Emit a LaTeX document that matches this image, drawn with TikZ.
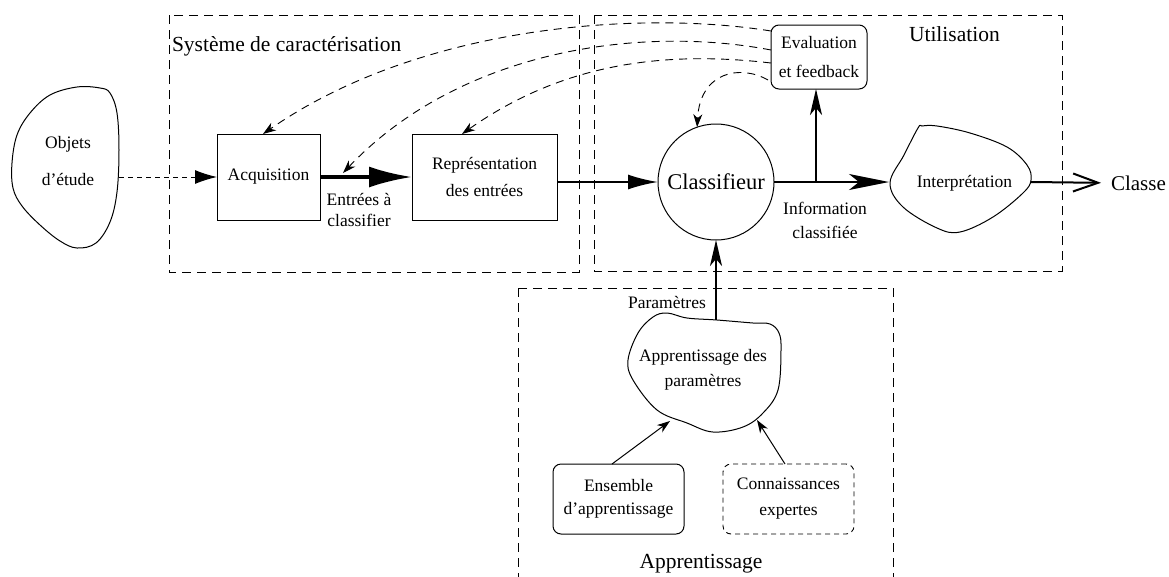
\documentclass[tikz,border=0pt]{standalone}
\usepackage{fontspec}
\setmainfont{Liberation Serif}
\usetikzlibrary{arrows.meta,calc}
\begin{document}
\begin{tikzpicture}[x=1pt,y=-1pt,
  every node/.style={inner sep=0pt, outer sep=0pt},
  txt/.style={font=\fontsize{17.5}{#1}\selectfont, align=center},
  txt/.default=21,
  big/.style={font=\fontsize{21.5}{26}\selectfont},
  box/.style={draw, line width=1pt},
  region/.style={draw, line width=0.9pt, dash pattern=on 9pt off 6pt},
  blob/.style={draw, line width=1pt},
  feed/.style={line width=0.9pt, dash pattern=on 8pt off 6pt, -{Stealth[length=13pt,width=9pt,inset=4pt]}},
  thin arrow/.style={line width=1pt, -{Stealth[length=13pt,width=9pt,inset=4pt]}},
  main/.style={line width=2pt},
]
\useasboundingbox (0,0) rectangle (1169,576);

% regions
\draw[region] (169,15) rectangle (579,272);
\draw[region] (594,15) rectangle (1062,271);
\draw[region] (518,288) rectangle (893,600);

% titles
\node[big, anchor=base west] (t1) at (172,51) {Système de caractérisation};
\node[big, anchor=base west] (t2) at (909,41) {Utilisation};
\node[big, anchor=base] (t3) at (701,568) {Apprentissage};

% blobs
\draw[blob] plot[smooth cycle, tension=0.6] coordinates {(100,88) (77,87) (50,95) (30,113) (17,135) (12,163) (13,188) (22,206) (40,225) (60,241) (77,248) (96,243) (110,222) (117,192) (119,150) (117,113) (110,93)};
\node[txt=37] (obj) at (68,161.5) {Objets\\d’étude};

\draw[blob] plot[smooth cycle, tension=0.6] coordinates {(918,128) (904,155) (890,183) (903,207) (937,228) (960,232) (993,217) (1023,193) (1031,180) (1027,165) (1007,147) (970,133) (937,126) (922,126)};
\node[txt] (interp) at (964.5,183) {Interprétation};

\draw[blob] plot[smooth cycle, tension=0.6] coordinates {(667,313) (687,318) (717,320) (753,323) (770,324) (779,333) (781,350) (778,390) (763,413) (743,427) (713,432) (687,423) (657,410) (633,380) (628,360) (638,333) (653,317)};
\node[txt=25] (aptxt) at (703,370) {Apprentissage des\\paramètres};

% boxes
\node[box, txt, minimum width=103pt, minimum height=86pt] (acq) at (268.5,177) {Acquisition};
\node[box, txt=27, minimum width=145pt, minimum height=86pt] (rep) at (484.5,177) {Représentation\\des entrées};
\node[box, txt=29, rounded corners=8pt, minimum width=96pt, minimum height=64pt] (eval) at (819,57) {Evaluation\\et feedback};
\node[draw, circle, line width=1pt, minimum size=116pt, font=\fontsize{22.5}{27}\selectfont] (cls) at (716,182) {Classifieur};
\node[box, txt=23, rounded corners=8pt, minimum width=131pt, minimum height=70pt] (ens) at (618.5,499) {Ensemble\\d’apprentissage};
\node[draw, line width=0.9pt, dash pattern=on 5pt off 4pt, txt=26, rounded corners=8pt, minimum width=131pt, minimum height=70pt] (con) at (788.5,499) {Connaissances\\expertes};

% labels
\node[txt=21] (entrees) at (359,209.5) {Entrées à\\classifier};
\node[txt=24] (info) at (825,220) {Information\\classifiée};
\node[txt] (param) at (667,302) {Paramètres};
\node[font=\fontsize{21}{25}\selectfont, anchor=base west] (classe) at (1111,190) {Classe};

% coordinates on blobs
\coordinate (objR) at (119,177);
\coordinate (interpW) at (889,182);
\coordinate (interpE) at (1031,182);
\coordinate (br) at (816,182);
\coordinate (apTop) at (716,320);
\coordinate (apL) at (670,421);
\coordinate (apR) at (757,420);
\coordinate (fb2) at (343,173);

% connectors
\draw[line width=1pt, dash pattern=on 5pt off 4pt, -{Latex[length=22pt,width=14pt]}] (objR) -- (acq.west);
\draw[line width=3.5pt, -{Latex[length=43pt,width=21pt]}] (acq.east) -- (rep.west);
\draw[main, -{Latex[length=30pt,width=15pt]}] (rep.east |- cls.west) -- (cls.west);
\draw[main, -{Stealth[length=40pt,width=16pt,inset=10pt]}] (cls.east) -- (interpW);
\draw[main, -{Stealth[length=26pt,width=12pt,inset=7pt]}] (br) -- (br |- eval.south);
\draw[main, -{Straight Barb[length=25pt,width=18pt]}] (interpE) -- ([xshift=-10pt]classe.west);
\draw[main, -{Stealth[length=26pt,width=12pt,inset=7pt]}] (apTop) -- (cls.south);
\draw[thin arrow] ([xshift=-6.5pt]ens.north) -- (apL);
\draw[thin arrow] ([xshift=-3.5pt]con.north) -- (apR);

% feedback
\draw[feed] ([yshift=26pt]eval.west) .. controls (640,10) and (420,25) .. ([xshift=-5.5pt]acq.north);
\draw[feed] ([yshift=7pt]eval.west) .. controls (640,25) and (460,50) .. (fb2);
\draw[feed] ([yshift=-6pt]eval.west) .. controls (660,50) and (560,65) .. ([xshift=-22.5pt]rep.north);
\draw[feed] ([xshift=-3pt,yshift=-23pt]eval.west) .. controls (740,64) and (700,72) .. (cls.109);
\end{tikzpicture}
\end{document}
